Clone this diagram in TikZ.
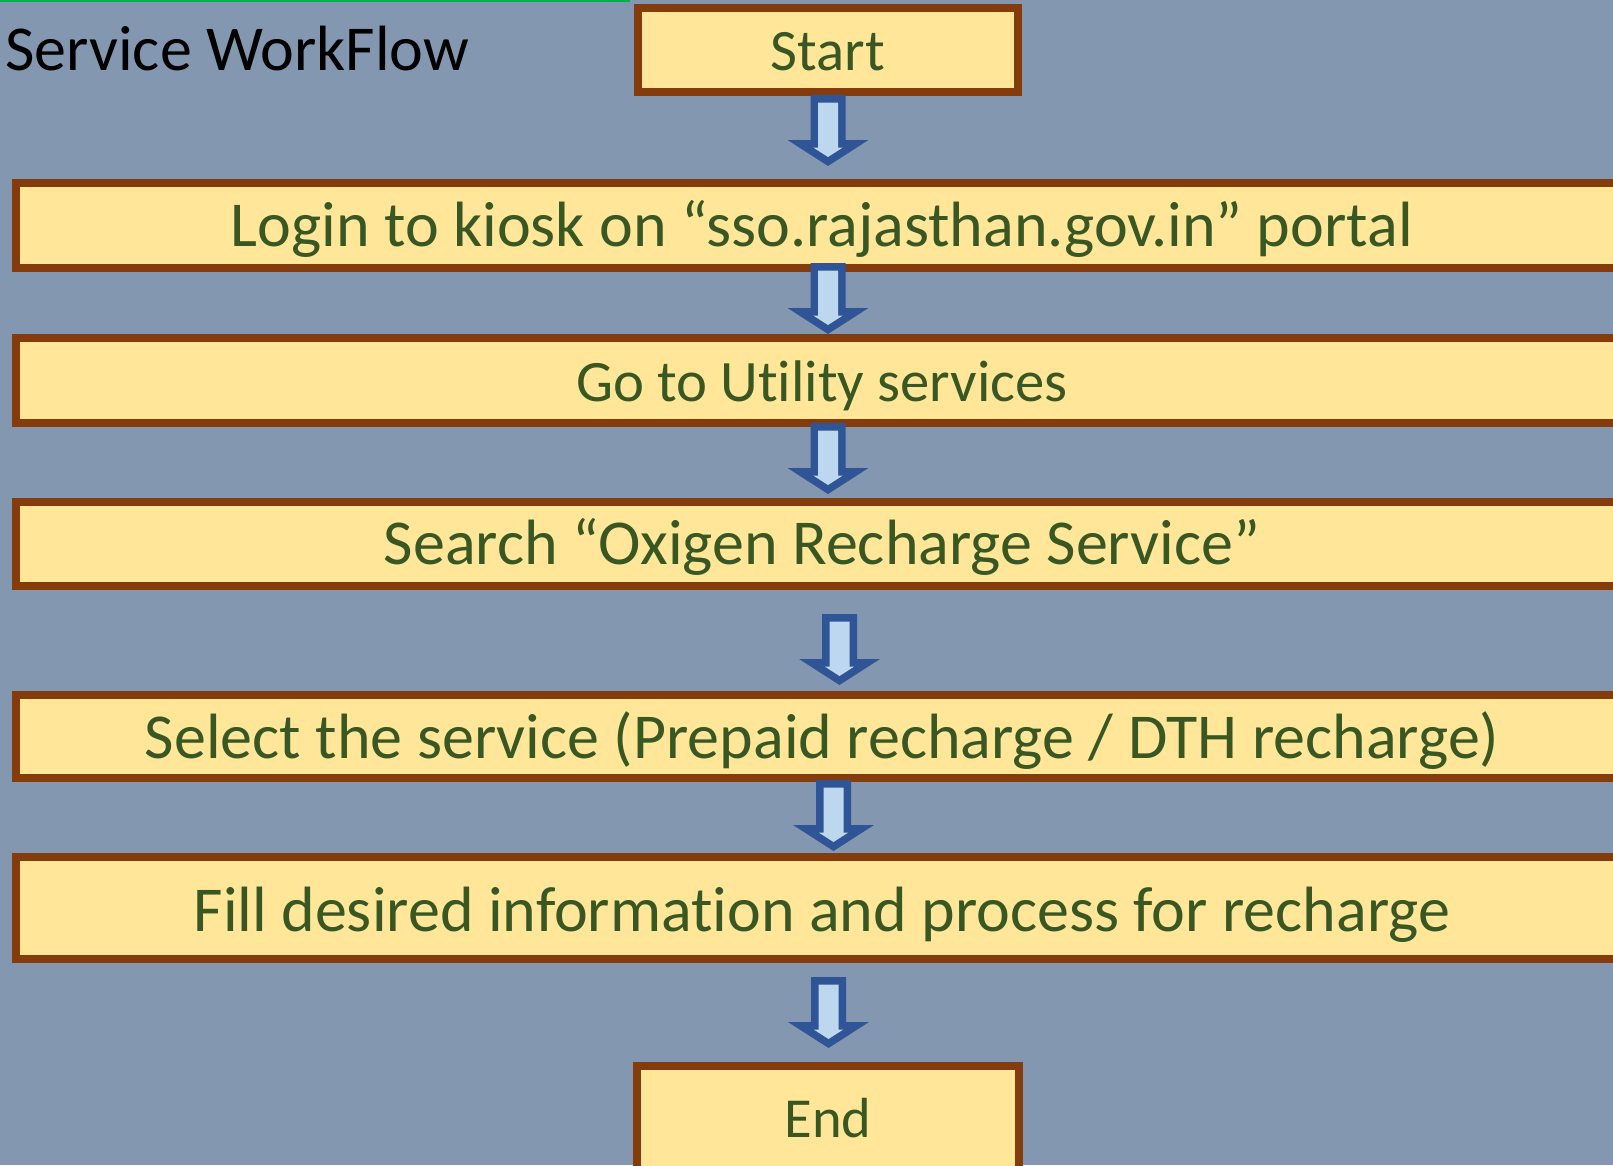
\documentclass[tikz,border=0pt]{standalone}
\usepackage{fontspec}
\setmainfont{Carlito}[Ligatures={NoCommon}]
\definecolor{bg}{HTML}{8497B0}
\definecolor{boxfill}{HTML}{FFE699}
\definecolor{boxbrown}{HTML}{843C0C}
\definecolor{txtgreen}{HTML}{385723}
\definecolor{arrowblue}{HTML}{2F5597}
\definecolor{arrowlight}{HTML}{BDD7EE}
\definecolor{topgreen}{HTML}{00B050}
\tikzset{
  stepbox/.style={rectangle, draw=boxbrown, fill=boxfill, line width=8pt, inner sep=0pt,
    text=txtgreen, text depth=0pt, text height=42pt, font=\fontsize{64}{76}\selectfont},
  wide/.style={stepbox, minimum width=1612pt, minimum height=85pt},
  endbox/.style={stepbox, minimum width=380pt, font=\fontsize{58.7}{70}\selectfont},
  flowarrow/.pic={
    \fill[arrowblue] (-17.5,0) -- (17.5,0) -- (17.5,45) -- (40.5,45) -- (0,71) -- (-40.5,45) -- (-17.5,45) -- cycle;
    \fill[arrowlight] (-10,7.5) -- (10,7.5) -- (10,52.5) -- (14.8,52.5) -- (0,62) -- (-14.8,52.5) -- (-10,52.5) -- cycle;
  }
}
\begin{document}
\begin{tikzpicture}[x=1pt,y=-1pt]
\useasboundingbox (0,0) rectangle (1613,1165);
\fill[bg] (0,0) rectangle (1613,1165);
\draw[topgreen, line width=2pt] (0,1) -- (630,1);

\node[anchor=base west, inner sep=0pt, font=\fontsize{64}{76}\selectfont, text=black] (title) at (5,70) {Service WorkFlow};

\node[endbox, minimum height=84pt, text height=41pt] (start) at (828,50) {Start};
\node[wide] (login) at (822,225.5) {Login to kiosk on “sso.rajasthan.gov.in” portal};
\node[wide, font=\fontsize{58.7}{70}\selectfont] (utility) at (822,380.5) {Go to Utility services};
\node[wide, minimum height=84pt, text height=40pt] (search) at (822,544) {Search “Oxigen Recharge Service”};
\node[wide, minimum height=83pt, text height=44pt] (select) at (822,736.5) {Select the service (Prepaid recharge / DTH recharge)};
\node[wide, minimum height=102pt, text height=46pt] (fill) at (822,908) {Fill desired information and process for recharge};
\node[endbox, minimum width=382pt, minimum height=105pt, text height=37pt, font=\fontsize{56.5}{67}\selectfont] (end) at (828,1118.5) {End};

\coordinate (a1) at (828,95);
\coordinate (a2) at (828,263);
\coordinate (a3) at (828,423);
\coordinate (a4) at (839.5,614);
\coordinate (a5) at (833.5,780);
\coordinate (a6) at (828.5,977);
\pic at (a1) {flowarrow};
\pic at (a2) {flowarrow};
\pic at (a3) {flowarrow};
\pic at (a4) {flowarrow};
\pic at (a5) {flowarrow};
\pic at (a6) {flowarrow};
\end{tikzpicture}
\end{document}
